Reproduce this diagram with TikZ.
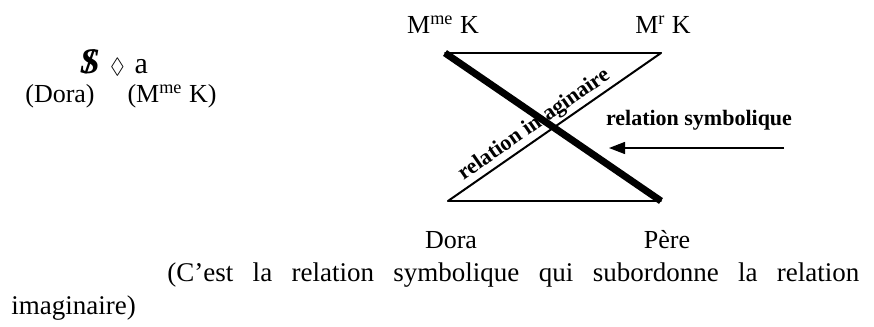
\documentclass[tikz,border=0pt]{standalone}
\usepackage{fontspec}
\setmainfont{Liberation Serif}
\usepackage{amssymb}
\usetikzlibrary{arrows.meta}
\newcommand{\BarredS}{{\fontsize{18}{18}\selectfont\ooalign{\textbf{\textit{S}}\cr\hidewidth\textbf{/}\hidewidth\cr}}}

\begin{document}
\begin{tikzpicture}[x=0.5pt,y=-0.5pt,
  lbl/.style={inner sep=0pt,font=\fontsize{13}{15}\selectfont},
  boldlbl/.style={inner sep=1pt,font=\fontsize{11}{13}\selectfont\bfseries},
  thinside/.style={line width=1pt,line cap=round},
  thickside/.style={line width=3.5pt}]
\useasboundingbox (0,0) rectangle (874,327);
% corners of the figure
\coordinate (mmeK) at (445,53);
\coordinate (mrK) at (661,53);
\coordinate (dora) at (448,201);
\coordinate (pere) at (661,201);
% matheme on the left
\node[lbl] (matheme) at (114,63) {\BarredS\hspace{5pt}{\fontsize{11}{11}\selectfont$\Diamond$}\hspace{5pt}{\fontsize{15}{15}\selectfont a}};
\node[lbl] (matDora) at (60,96) {(Dora)};
\node[lbl] (matMmeK) at (172,96) {(M\textsuperscript{me} K)};
% labels of the corners
\node[lbl] (lblMmeK) at (443,25) {M\textsuperscript{me} K};
\node[lbl] (lblMrK) at (663,25) {M\textsuperscript{r} K};
\node[lbl] (lblDora) at (451,240) {Dora};
\node[lbl] (lblPere) at (667,240) {Père};
% sides
\draw[thinside] (mmeK) -- (mrK);
\draw[thinside] (dora) -- (pere);
\draw[thinside] (dora) -- (mrK)
  node[boldlbl,sloped,above,pos=0.44] (lblImag) {relation imaginaire};
\draw[thickside] (mmeK) -- (pere);
% symbolic relation
\node[boldlbl] (lblSymb) at (699,120) {relation symbolique};
\coordinate (arrowStart) at (784,148);
\coordinate (arrowEnd) at (609,148);
\draw[line width=0.7pt,-{Triangle[length=8pt,width=6pt]}] (arrowStart) -- (arrowEnd);
% caption
\node[inner sep=0pt,anchor=north west,text width=424pt,align=justify,
  font=\fontsize{13.5}{16.5}\selectfont] (caption) at (11,262)
  {\hspace*{78pt}(C'est la relation symbolique qui subordonne la relation\linebreak imaginaire)};
\end{tikzpicture}
\end{document}
